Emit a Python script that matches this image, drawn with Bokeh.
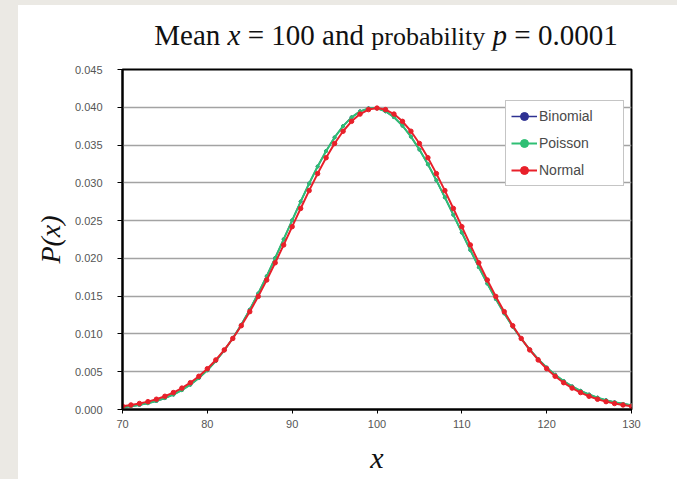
from bokeh.plotting import figure
from bokeh.models import Range1d, Div, FixedTicker, NumeralTickFormatter
from bokeh.layouts import row, column
from bokeh.embed import file_html
from bokeh.resources import INLINE

# ---- data ----
x_vals = list(range(70, 131))

poisson = [0.00031, 0.00044, 0.00061, 0.00083, 0.00113, 0.00150, 0.00197, 0.00256, 0.00329, 0.00416,
           0.00520, 0.00642, 0.00783, 0.00943, 0.01122, 0.01321, 0.01536, 0.01765, 0.02006, 0.02254,
           0.02504, 0.02752, 0.02991, 0.03216, 0.03421, 0.03601, 0.03751, 0.03867, 0.03946, 0.03986,
           0.03986, 0.03947, 0.03869, 0.03757, 0.03612, 0.03440, 0.03245, 0.03033, 0.02808, 0.02576,
           0.02342, 0.02110, 0.01884, 0.01667, 0.01463, 0.01272, 0.01096, 0.00937, 0.00794, 0.00667,
           0.00556, 0.00460, 0.00377, 0.00306, 0.00247, 0.00198, 0.00157, 0.00124, 0.00097, 0.00075,
           0.00058]

binomial = [0.00031, 0.00044, 0.00061, 0.00083, 0.00113, 0.00150, 0.00197, 0.00256, 0.00329, 0.00416,
            0.00520, 0.00642, 0.00783, 0.00943, 0.01122, 0.01321, 0.01536, 0.01765, 0.02006, 0.02254,
            0.02504, 0.02752, 0.02991, 0.03216, 0.03421, 0.03601, 0.03751, 0.03867, 0.03946, 0.03986,
            0.03986, 0.03947, 0.03869, 0.03757, 0.03612, 0.03440, 0.03245, 0.03033, 0.02808, 0.02576,
            0.02342, 0.02110, 0.01884, 0.01667, 0.01463, 0.01272, 0.01096, 0.00937, 0.00794, 0.00667,
            0.00556, 0.00460, 0.00377, 0.00306, 0.00247, 0.00198, 0.00157, 0.00124, 0.00097, 0.00075,
            0.00058]

normal = [0.00044, 0.00060, 0.00079, 0.00104, 0.00136, 0.00175, 0.00224, 0.00283, 0.00355, 0.00440,
          0.00540, 0.00656, 0.00789, 0.00940, 0.01109, 0.01295, 0.01497, 0.01714, 0.01942, 0.02178,
          0.02420, 0.02661, 0.02897, 0.03122, 0.03332, 0.03521, 0.03683, 0.03814, 0.03910, 0.03969,
          0.03989, 0.03969, 0.03910, 0.03814, 0.03683, 0.03521, 0.03332, 0.03122, 0.02897, 0.02661,
          0.02420, 0.02178, 0.01942, 0.01714, 0.01497, 0.01295, 0.01109, 0.00940, 0.00789, 0.00656,
          0.00540, 0.00440, 0.00355, 0.00283, 0.00224, 0.00175, 0.00136, 0.00104, 0.00079, 0.00060,
          0.00044]

x_ticks = [70, 80, 90, 100, 110, 120, 130]
y_ticks = [0.000, 0.005, 0.010, 0.015, 0.020, 0.025, 0.030, 0.035, 0.040, 0.045]
series_names = ["Binomial", "Poisson", "Normal"]

# ---- layout geometry (page pixels) ----
GRAY = "#ebe9e4"
LEFT_STRIP, TOP_STRIP, TITLE_H = 18, 5, 45
FIG_W = 677 - LEFT_STRIP
FIG_H = 479 - TOP_STRIP - TITLE_H
FRAME_L, FRAME_R, FRAME_T, FRAME_B = 122, 631, 69, 409

p = figure(width=FIG_W, height=FIG_H, output_backend="svg", toolbar_location=None,
           x_range=Range1d(70, 130), y_range=Range1d(0.0, 0.045),
           min_border_left=FRAME_L - LEFT_STRIP, min_border_right=677 - FRAME_R,
           min_border_top=FRAME_T - TOP_STRIP - TITLE_H, min_border_bottom=479 - FRAME_B,
           margin=0)
p.title.visible = False
p.background_fill_color = "white"
p.border_fill_color = "white"
p.outline_line_color = "black"
p.outline_line_width = 2

# grid
p.xgrid.grid_line_color = None
p.ygrid.grid_line_color = "#a3a3a3"
p.ygrid.grid_line_width = 1.3

# axes
for ax in (p.xaxis[0], p.yaxis[0]):
    ax.axis_line_color = "black"
    ax.axis_line_width = 2
    ax.major_tick_line_color = "black"
    ax.major_tick_in = 0
    ax.minor_tick_line_color = None
    ax.major_label_text_font = "Liberation Sans"
    ax.major_label_text_font_size = "11px"
    ax.major_label_text_color = "#555555"
    ax.axis_label_text_font = "Liberation Serif"
    ax.axis_label_text_font_style = "italic"
    ax.axis_label_text_color = "#111111"
p.xaxis.ticker = FixedTicker(ticks=x_ticks)
p.yaxis.ticker = FixedTicker(ticks=y_ticks)
p.yaxis.formatter = NumeralTickFormatter(format="0.000")
p.yaxis.major_tick_out = 5
p.yaxis.major_label_standoff = 15
p.xaxis.major_tick_out = 4
p.xaxis.major_label_standoff = 6
p.yaxis.axis_label = "P(x)"
p.yaxis.axis_label_text_font_size = "28px"
p.yaxis.axis_label_standoff = 6
p.xaxis.axis_label = "x"
p.xaxis.axis_label_text_font_size = "30px"
p.xaxis.axis_label_standoff = 10

colors = {"Binomial": "#2e3192", "Poisson": "#2fbf74", "Normal": "#e8202a"}
ys = {"Binomial": binomial, "Poisson": poisson, "Normal": normal}
for name in series_names:
    p.line(x_vals, ys[name], line_color=colors[name], line_width=2 if name != "Binomial" else 1.5,
           legend_label=name)
    p.scatter(x_vals, ys[name], size=4.5 if name == "Normal" else 3, marker="circle",
              fill_color=colors[name], line_color=colors[name], legend_label=name)

leg = p.legend[0]
leg.location = (505 - FRAME_L, FRAME_B - 186)
leg.border_line_color = "#8c8c8c"
leg.border_line_width = 1
leg.background_fill_color = "white"
leg.background_fill_alpha = 1
leg.label_text_font = "Liberation Sans"
leg.label_text_font_size = "14px"
leg.label_text_color = "#4a4a4a"
leg.glyph_width = 26
leg.glyph_height = 20
leg.spacing = 7
leg.padding = 5
leg.margin = 0
leg.label_standoff = 2
leg.label_height = 20
leg.label_width = 79

# title (mixed upright / italic, as in the reference)
title_html = (
    '<div style="padding-top:16px; margin-left:77px; width:582px; text-align:center; '
    'white-space:nowrap; font-family:\'Liberation Serif\', serif; font-size:29px; '
    'line-height:29px; color:#111111;">'
    'Mean <i>x</i> = 100 and <span style="font-size:26px">probability</span> '
    '<i>p</i> = 0.0001</div>'
)
title_div = Div(text=title_html, width=FIG_W, height=TITLE_H, margin=0,
                styles={"background-color": "white"})

left_strip = Div(width=LEFT_STRIP, height=479, margin=0, styles={"background-color": GRAY})
top_strip = Div(width=FIG_W, height=TOP_STRIP, margin=0, styles={"background-color": GRAY})
layout = row(left_strip, column(top_strip, title_div, p, spacing=0, margin=0), spacing=0, margin=0)

open("out.html", "w").write(file_html(layout, INLINE))
